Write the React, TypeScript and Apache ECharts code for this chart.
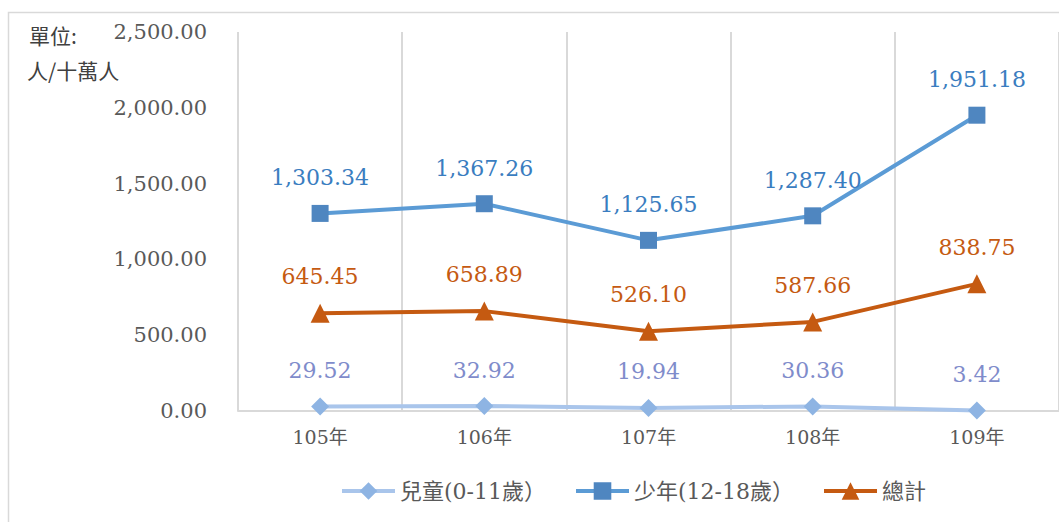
import React, { useEffect, useRef } from "react";
import * as echarts from "echarts";

const categories = ["105年", "106年", "107年", "108年", "109年"];
const kids = [29.52, 32.92, 19.94, 30.36, 3.42];
const youth = [1303.34, 1367.26, 1125.65, 1287.4, 1951.18];
const total = [645.45, 658.89, 526.1, 587.66, 838.75];
const seriesNames = ["兒童(0-11歲）", "少年(12-18歲）", "總計"];
const unitLines = ["單位:", "人/十萬人"];

const NUM_FONT = "DejaVu Serif, Noto Sans CJK TC, serif";

const fmt = (v: number) =>
  v.toLocaleString("en-US", { minimumFractionDigits: 2, maximumFractionDigits: 2 });

export default function App() {
  const ref = useRef<HTMLDivElement>(null);
  useEffect(() => {
    if (!ref.current) return;
    const chart = echarts.init(ref.current, undefined, { renderer: "svg" });
    const mk = (
      name: string,
      data: number[],
      lineColor: string,
      symColor: string,
      labelColor: string,
      symbol: string,
      size: number
    ) => ({
      name,
      type: "line",
      data,
      symbol,
      symbolSize: size,
      lineStyle: { color: lineColor, width: 4 },
      itemStyle: { color: symColor },
      label: {
        show: true,
        position: "top",
        distance: 16,
        color: labelColor,
        fontSize: 22,
        fontFamily: NUM_FONT,
        formatter: (p: any) => fmt(p.value),
      },
    });
    chart.setOption({
      animation: false,
      grid: { left: 238, top: 32, width: 825, height: 379 },
      graphic: [
        {
          type: "rect",
          shape: { x: 8.5, y: 12.5, width: 1200, height: 700 },
          style: { fill: "none", stroke: "#D9D9D9", lineWidth: 1.5 },
          silent: true,
        },
        {
          type: "text",
          left: 29,
          top: 24,
          style: { text: unitLines[0], fontSize: 21, fill: "#404040", fontFamily: "Noto Sans CJK TC, sans-serif" },
        },
        {
          type: "text",
          left: 27,
          top: 59,
          style: { text: unitLines[1], fontSize: 21, fill: "#404040", fontFamily: "Noto Sans CJK TC, sans-serif" },
        },
      ],
      legend: {
        left: 335,
        top: 475,
        itemWidth: 53,
        itemHeight: 22,
        itemGap: 28,
        lineStyle: { width: 4 },
        textStyle: { fontSize: 22, color: "#595959", fontFamily: NUM_FONT },
        data: seriesNames,
      },
      xAxis: {
        type: "category",
        data: categories,
        boundaryGap: true,
        axisLine: { lineStyle: { color: "#D9D9D9", width: 2 } },
        axisTick: { show: false },
        splitLine: { show: true, lineStyle: { color: "#D9D9D9", width: 2 } },
        axisLabel: { fontSize: 19, color: "#595959", margin: 16, fontFamily: NUM_FONT },
      },
      yAxis: {
        type: "value",
        min: 0,
        max: 2500,
        interval: 500,
        splitLine: { show: false },
        axisLine: { show: false },
        axisTick: { show: false },
        axisLabel: {
          fontSize: 21,
          color: "#595959",
          margin: 31,
          fontFamily: NUM_FONT,
          formatter: (v: number) => fmt(v),
        },
      },
      series: [
        mk(seriesNames[0], kids, "#A9C5EB", "#8EB4E3", "#7F8CCB", "diamond", 18),
        mk(seriesNames[1], youth, "#5B9BD5", "#4F86C0", "#3A7DC0", "rect", 17),
        mk(seriesNames[2], total, "#C55A11", "#C55A11", "#C55A11", "triangle", 19),
      ],
    });
    return () => chart.dispose();
  }, []);
  return (
    <div
      ref={ref}
      style={{ position: "fixed", left: 0, top: 0, width: 1059, height: 522, background: "#fff" }}
    />
  );
}
